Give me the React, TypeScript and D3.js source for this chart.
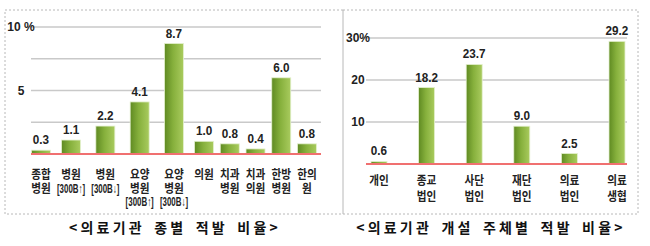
import React from "react";
import * as d3 from "d3";

const typeCats = ["종합병원", "병원300up", "병원300down", "요양병원300up", "요양병원300down", "의원", "치과병원", "치과의원", "한방병원", "한의원"];
const typeLabels: string[][] = [
  ["종합", "병원"],
  ["병원", "[300B↑]"],
  ["병원", "[300B↓]"],
  ["요양", "병원", "[300B↑]"],
  ["요양", "병원", "[300B↓]"],
  ["의원"],
  ["치과", "병원"],
  ["치과", "의원"],
  ["한방", "병원"],
  ["한의", "원"],
];
const typeValues = [0.3, 1.1, 2.2, 4.1, 8.7, 1.0, 0.8, 0.4, 6.0, 0.8];
const typeGrid = [2.5, 5, 7.5, 10];
const typeTickLabels = [{ v: 5, t: "5" }, { v: 10, t: "10 %" }];
const typeTitle = "<의료기관 종별 적발 비율>";

const ownerCats = ["개인", "종교법인", "사단법인", "재단법인", "의료법인", "의료생협"];
const ownerLabels: string[][] = [["개인"], ["종교", "법인"], ["사단", "법인"], ["재단", "법인"], ["의료", "법인"], ["의료", "생협"]];
const ownerValues = [0.6, 18.2, 23.7, 9.0, 2.5, 29.2];
const ownerGrid = [10, 20, 30];
const ownerTickLabels = [{ v: 10, t: "10" }, { v: 20, t: "20" }, { v: 30, t: "30%" }];
const ownerTitle = "<의료기관 개설 주체별 적발 비율>";

const NUM_FONT = "'Liberation Sans Narrow', 'Liberation Sans', Arial, sans-serif";
const KR_FONT = "'Noto Sans CJK KR', 'Noto Sans', sans-serif";

// estimated width of a category's label block, used to lay categories out like the source
function labelWidth(rows: string[]) {
  return d3.max(rows, (r) => (r.startsWith("[") ? 33 : r.length * 12)) as number;
}

type PanelProps = {
  cats: string[];
  labels: string[][];
  values: number[];
  grid: number[];
  ticks: { v: number; t: string }[];
  title: string;
  box: [number, number, number, number];
  xEnds: [number, number];
  yDomain: [number, number];
  yRange: [number, number];
  gridX: [number, number];
  tickX: number;
  barW: number;
  labelY0: number;
  labelDy: number;
  titleX: number;
};

function Panel(p: PanelProps) {
  const widths = p.labels.map((l) => labelWidth(l) + 3);
  const slots: number[] = [];
  widths.forEach((w, i) => slots.push(i === 0 ? w / 2 : slots[i - 1] + (widths[i - 1] + w) / 2));
  const x = d3.scaleLinear().domain([slots[0], slots[slots.length - 1]]).range(p.xEnds);
  const y = d3.scaleLinear().domain(p.yDomain).range(p.yRange);
  const [bx, by, bw, bh] = p.box;
  return (
    <g>
      <rect x={bx} y={by} width={bw} height={bh} fill="none" stroke="#b8b8b8" strokeWidth={1} strokeDasharray="2,2" />
      {p.grid.map((g) => (
        <line key={g} x1={p.gridX[0]} x2={p.gridX[1]} y1={y(g)} y2={y(g)} stroke="#c9c9c9" strokeWidth={1.5} />
      ))}
      {p.ticks.map((t) => (
        <text key={t.v} x={p.tickX} y={y(t.v)} dy="0.35em" textAnchor="middle" fontFamily={NUM_FONT} fontWeight="bold" fontSize={12} fill="#222">
          {t.t}
        </text>
      ))}
      {p.cats.map((c, i) => {
        const cx = x(slots[i]);
        const top = y(p.values[i]);
        return (
          <g key={c}>
            <rect x={cx - p.barW / 2} y={top} width={p.barW} height={y(0) - top} fill="url(#barGrad)" stroke="#e4f0cf" strokeWidth={0.8} />
            <text
              transform={`translate(${cx},${top - 6}) scale(0.9,1)`}
              textAnchor="middle"
              fontFamily={NUM_FONT}
              fontWeight="bold"
              fontSize={13}
              fill="#222"
            >
              {p.values[i].toFixed(1)}
            </text>
            {p.labels[i].map((l, j) => {
              const br = l.startsWith("[");
              return (
                <text
                  key={j}
                  transform={`translate(${cx},${p.labelY0 + j * p.labelDy}) scale(${br ? 0.66 : 0.85},1)`}
                  textAnchor="middle"
                  fontFamily={br ? NUM_FONT : KR_FONT}
                  fontWeight="bold"
                  fontSize={br ? 12 : 12.5}
                  fill="#222"
                  dy="0.35em"
                >
                  {l}
                </text>
              );
            })}
          </g>
        );
      })}
      <line x1={p.gridX[0]} x2={p.gridX[1]} y1={y(0)} y2={y(0)} stroke="#f07070" strokeWidth={2} />
      <text x={p.titleX} y={233} textAnchor="middle" fontFamily={KR_FONT} fontWeight="bold" fontSize={14} letterSpacing={3.2} wordSpacing={3} fill="#111">
        {p.title}
      </text>
    </g>
  );
}

export default function App() {
  return (
    <svg width={650} height={246} style={{ position: "absolute", left: 0, top: 0, background: "#fff" }}>
      <defs>
        <linearGradient id="barGrad" x1="0" x2="1" y1="0" y2="0">
          <stop offset="0%" stopColor="#5f8a22" />
          <stop offset="45%" stopColor="#86b03c" />
          <stop offset="100%" stopColor="#a9cb5e" />
        </linearGradient>
      </defs>
      <rect x={0} y={0} width={650} height={246} fill="#fff" />
      <Panel
        cats={typeCats}
        labels={typeLabels}
        values={typeValues}
        grid={typeGrid}
        ticks={typeTickLabels}
        title={typeTitle}
        box={[5, 10, 338, 204]}
        xEnds={[41, 307]}
        yDomain={[0, 10]}
        yRange={[154, 27]}
        gridX={[31, 321]}
        tickX={21}
        barW={19}
        labelY0={175}
        labelDy={13.5}
        titleX={175}
      />
      <Panel
        cats={ownerCats}
        labels={ownerLabels}
        values={ownerValues}
        grid={ownerGrid}
        ticks={ownerTickLabels}
        title={ownerTitle}
        box={[343, 10, 295, 204]}
        xEnds={[379, 617]}
        yDomain={[0, 30]}
        yRange={[164, 38]}
        gridX={[366, 627]}
        tickX={358}
        barW={16}
        labelY0={181}
        labelDy={16}
        titleX={491}
      />
    </svg>
  );
}
